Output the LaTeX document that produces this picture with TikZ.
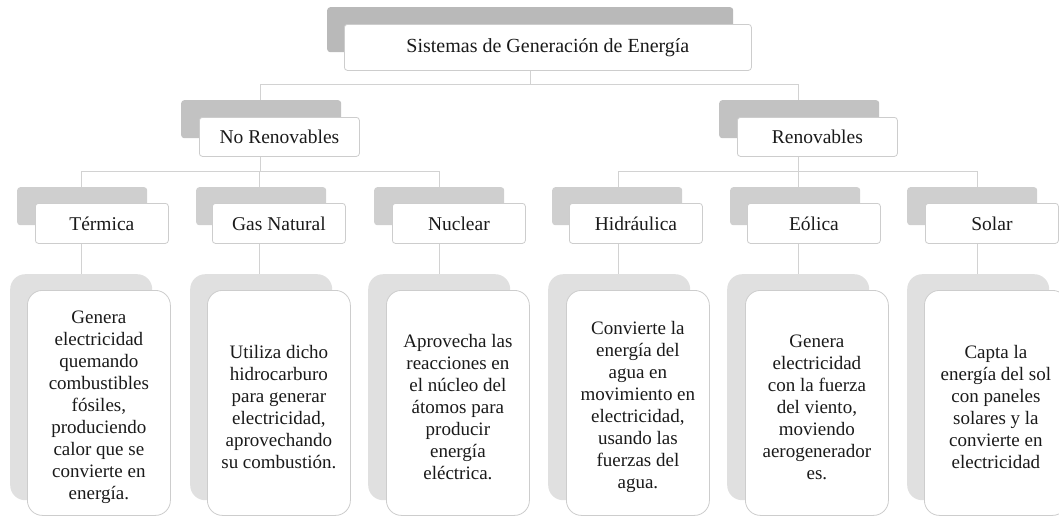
\documentclass[tikz,border=0pt]{standalone}
\usepackage{fontspec}
\setmainfont{Liberation Serif}
\newfontfamily\tnr{Liberation Serif}
\usetikzlibrary{backgrounds}
\definecolor{shA}{HTML}{B9B9B9}
\definecolor{shB}{HTML}{C2C2C2}
\definecolor{shC}{HTML}{CFCFCF}
\definecolor{shD}{HTML}{E0E0E0}
\definecolor{bord}{HTML}{CDCDCD}
\definecolor{lin}{HTML}{D2D2D2}
\definecolor{txt}{HTML}{1A1A1A}
\tikzset{
  conn/.style={draw=lin, line width=1pt},
  shad/.style={draw=none, rounded corners=3pt, inner sep=0pt, anchor=north west},
  wbox/.style={draw=bord, fill=white, line width=0.8pt, rounded corners=3pt, inner sep=0pt, anchor=north west, text=txt},
  bigshad/.style={shad, rounded corners=15pt, fill=shD, minimum width=142pt, minimum height=226pt},
  bigbox/.style={wbox, rounded corners=15pt, minimum width=143pt, minimum height=225pt},
  lvthreeshad/.style={shad, fill=shC, minimum width=130pt, minimum height=38pt},
  lvthreebox/.style={wbox, minimum width=133pt, minimum height=40pt, font=\tnr\fontsize{19.5}{22}\selectfont},
  desc/.style={align=center, text=txt, inner sep=0pt, font=\tnr\fontsize{19}{22}\selectfont}
}
\begin{document}
\begin{tikzpicture}[x=1pt,y=-1pt]
\useasboundingbox (0,0) rectangle (1059,517);
\clip (0,0) rectangle (1059,517);

\coordinate (t0) at (530,84);
\coordinate (nrL) at (260,84);
\coordinate (rL) at (798,84);
\coordinate (nrB) at (260,171);
\coordinate (rB) at (798,171);
\coordinate (c1) at (81,171);
\coordinate (c2) at (259,171);
\coordinate (c3) at (439,171);
\coordinate (c4) at (618,171);
\coordinate (c5) at (798,171);
\coordinate (c6) at (977,171);

% ---------- shadows ----------
\node[shad, fill=shA, minimum width=406pt, minimum height=45pt] (sTop) at (327,7) {};
\node[shad, fill=shB, minimum width=160pt, minimum height=38pt] (sNR) at (181,100) {};
\node[shad, fill=shB, minimum width=160pt, minimum height=38pt] (sR) at (719,100) {};
\node[lvthreeshad] (s1) at (17,187) {};
\node[lvthreeshad] (s2) at (196,187) {};
\node[lvthreeshad] (s3) at (374,187) {};
\node[lvthreeshad] (s4) at (552,187) {};
\node[lvthreeshad] (s5) at (730,187) {};
\node[lvthreeshad] (s6) at (907,187) {};
\node[bigshad] (d1) at (10,274) {};
\node[bigshad] (d2) at (190,274) {};
\node[bigshad] (d3) at (368,274) {};
\node[bigshad] (d4) at (548,274) {};
\node[bigshad] (d5) at (727,274) {};
\node[bigshad] (d6) at (907,274) {};

% ---------- boxes ----------
\node[wbox, minimum width=407pt, minimum height=46pt, font=\tnr\fontsize{20}{24}\selectfont] (top) at (344,24) {Sistemas de Generación de Energía};
\node[wbox, minimum width=160pt, minimum height=39pt, font=\tnr\fontsize{19.5}{22}\selectfont] (wNR) at (199,117) {No Renovables};
\node[wbox, minimum width=160pt, minimum height=39pt, font=\tnr\fontsize{19.5}{22}\selectfont] (wR) at (737,117) {Renovables};

\node[lvthreebox] (w1) at (35,203) {Térmica};
\node[lvthreebox] (w2) at (212,203) {Gas Natural};
\node[lvthreebox] (w3) at (392,203) {Nuclear};
\node[lvthreebox] (w4) at (569,203) {Hidráulica};
\node[lvthreebox] (w5) at (747,203) {Eólica};
\node[lvthreebox] (w6) at (925,203) {Solar};

\node[bigbox] (b1) at (27,290) {};
\node[bigbox] (b2) at (207,290) {};
\node[bigbox] (b3) at (386,290) {};
\node[bigbox] (b4) at (566,290) {};
\node[bigbox] (b5) at (745,290) {};
\node[bigbox] (b6) at (924,290) {};

\node[desc] (x1) at (b1.center |- 0,407) {Genera\\electricidad\\quemando\\combustibles\\fósiles,\\produciendo\\calor que se\\convierte en\\energía.};
\node[desc] (x2) at (b2.center |- 0,407) {Utiliza dicho\\hidrocarburo\\para generar\\electricidad,\\aprovechando\\su combustión.};
\node[desc] (x3) at (b3.center |- 0,407) {Aprovecha las\\reacciones en\\el núcleo del\\átomos para\\producir\\energía\\eléctrica.};
\node[desc] (x4) at (b4.center |- 0,407) {Convierte la\\energía del\\agua en\\movimiento en\\electricidad,\\usando las\\fuerzas del\\agua.};
\node[desc] (x5) at (b5.center |- 0,407) {Genera\\electricidad\\con la fuerza\\del viento,\\moviendo\\aerogenerador\\es.};
\node[desc] (x6) at (b6.center |- 0,407) {Capta la\\energía del sol\\con paneles\\solares y la\\convierte en\\electricidad};

% ---------- connectors (behind boxes) ----------
\begin{scope}[on background layer]
  \draw[conn] (t0 |- top.south) -- (t0);
  \draw[conn] (nrL |- sNR.north) -- (nrL) -- (rL) -- (rL |- sR.north);
  \draw[conn] (nrB |- wNR.south) -- (nrB);
  \draw[conn] (rB |- wR.south) -- (rB);
  \draw[conn] (c1) -- (c3);
  \draw[conn] (c4) -- (c6);
  \foreach \i in {1,...,6} {
    \draw[conn] (c\i) -- (c\i |- s\i.north);
    \draw[conn] (c\i |- w\i.south) -- (c\i |- d\i.north);
  }
\end{scope}
\end{tikzpicture}
\end{document}
